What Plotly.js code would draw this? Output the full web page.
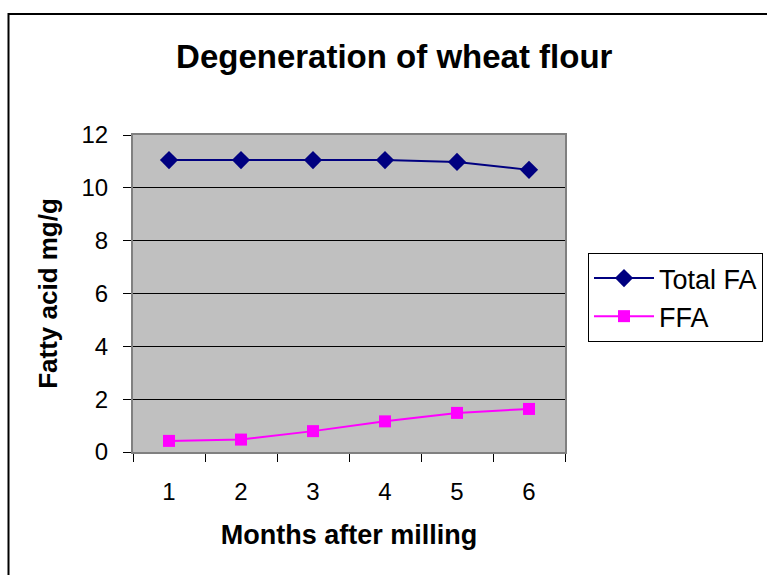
<!DOCTYPE html>
<html>
<head>
<meta charset="utf-8">
<script src="https://cdn.plot.ly/plotly-3.0.1.min.js"></script>
<style>
  html, body { margin: 0; padding: 0; background: #ffffff; }
  #chart { width: 767px; height: 575px; }
</style>
</head>
<body>
<div id="chart"></div>
<script>
const months = ['1', '2', '3', '4', '5', '6'];
const totalFA = [11.05, 11.05, 11.05, 11.05, 10.98, 10.68];
const ffa = [0.42, 0.47, 0.79, 1.16, 1.48, 1.63];
const yTicks = [0, 2, 4, 6, 8, 10, 12];

const FONT = 'Liberation Sans, Arial, Helvetica, sans-serif';

// plot area in pixels
const L = 133, R = 565, T = 135, B = 452, W = 767, H = 575;
const px = v => (v - L) / (R - L);
const py = v => (B - v) / (B - T);

const traces = [
  {
    x: months, y: totalFA, name: 'Total FA', type: 'scatter', mode: 'lines+markers',
    line: { color: '#000080', width: 2 },
    marker: { symbol: 'diamond', size: 14, color: '#000080' }
  },
  {
    x: months, y: ffa, name: 'FFA', type: 'scatter', mode: 'lines+markers',
    line: { color: '#FF00FF', width: 2 },
    marker: { symbol: 'square', size: 12, color: '#FF00FF' }
  }
];

const layout = {
  width: W, height: H,
  margin: { l: L, r: W - R, t: T, b: H - B, pad: 0, autoexpand: false },
  paper_bgcolor: '#ffffff',
  plot_bgcolor: '#C0C0C0',
  font: { family: FONT, color: '#000000', size: 24 },
  title: {
    text: '<b>Degeneration of wheat flour</b>',
    font: { family: FONT, size: 33, color: '#000000' },
    x: 0.514, xanchor: 'center', y: 1 - 56 / H, yanchor: 'middle'
  },
  xaxis: {
    type: 'category',
    tickson: 'boundaries',
    ticks: 'outside', ticklen: 8, tickcolor: '#000000', tickwidth: 1,
    showgrid: false, zeroline: false,
    showline: true, linecolor: '#808080', linewidth: 2, mirror: true,
    tickfont: { family: FONT, size: 24 },
    ticklabelstandoff: 17,
    title: { text: '<b>Months after milling</b>', font: { family: FONT, size: 27 }, standoff: 21 },
    range: [-0.5, 5.5], fixedrange: true, automargin: false
  },
  yaxis: {
    range: [0, 12], tickvals: yTicks, ticktext: yTicks.map(String),
    ticks: 'outside', ticklen: 8, tickcolor: '#000000', tickwidth: 1,
    showgrid: true, gridcolor: '#000000', gridwidth: 1,
    zeroline: false,
    showline: true, linecolor: '#808080', linewidth: 2, mirror: true,
    tickfont: { family: FONT, size: 24 },
    ticklabelstandoff: 10,
    title: { text: '<b>Fatty acid mg/g</b>', font: { family: FONT, size: 26 }, standoff: 16 },
    fixedrange: true, automargin: false
  },
  showlegend: true,
  legend: {
    x: px(588), xanchor: 'left', y: py(253), yanchor: 'top',
    bgcolor: '#ffffff', bordercolor: '#000000', borderwidth: 1,
    font: { family: FONT, size: 27 },
    tracegroupgap: 0, itemwidth: 60
  },
  shapes: [
    {
      type: 'rect', xref: 'paper', yref: 'paper',
      x0: px(8.5), x1: px(W + 20), y0: py(H + 20), y1: py(14),
      line: { color: '#000000', width: 2 }, fillcolor: 'rgba(0,0,0,0)', layer: 'below'
    }
  ]
};

Plotly.newPlot('chart', traces, layout, { displayModeBar: false, staticPlot: true });
</script>
</body>
</html>
